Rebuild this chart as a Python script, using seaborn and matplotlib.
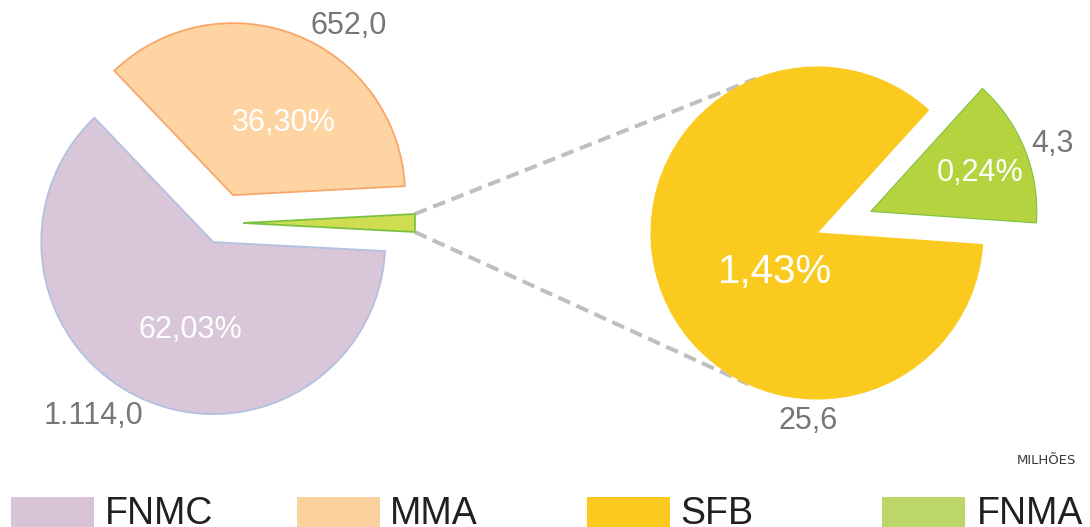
import matplotlib
matplotlib.use("Agg")
import matplotlib.pyplot as plt
import seaborn as sns
import numpy as np
from matplotlib.patches import Rectangle

# ---- data (milhões) ----
categories = ["FNMC", "MMA", "SFB", "FNMA"]
values = [1114.0, 652.0, 25.6, 4.3]
pie_colors = ["#d9c6d8", "#fdd4a2", "#fbca1e", "#b5d33e"]
legend_colors = ["#d9c4d7", "#fbd19e", "#fcc91f", "#bcd66a"]
other_color = "#cfdd51"
unit_label = "MILHÕES"

sns.set_theme(style="white")
plt.rcParams["font.family"] = ["Liberation Sans", "DejaVu Sans"]

W, H = 1090, 527
fig = plt.figure(figsize=(W / 100, H / 100), dpi=100)
ax = fig.add_axes([0, 0, 1, 1])


def sy(y):
    """Convert a top-down pixel row to the axes' bottom-up coordinate."""
    return H - y


def fmt_value(v):
    s = f"{v:,.1f}"
    return s.replace(",", "#").replace(".", ",").replace("#", ".")


def fmt_pct(p):
    return f"{p:.2f}".replace(".", ",") + "%"


total = sum(values)
other = values[2] + values[3]

# ---- main pie: other (SFB+FNMA), MMA, FNMC ----
# (explode offsets are in axis units, i.e. pixels here)
main_vals = [other, values[1], values[0]]
start_main = -180.0 * other / total
left_center = (222, sy(223))
left_r = 172
wl, _ = ax.pie(main_vals, center=left_center, radius=left_r,
               startangle=start_main, counterclock=True,
               explode=[21, 30, 21],
               colors=[other_color, pie_colors[1], pie_colors[0]],
               wedgeprops=dict(linewidth=1.3), frame=True)
for w, ec in zip(wl, ["#7cc242", "#f9a66b", "#b3c1e1"]):
    w.set_edgecolor(ec)
    w.set_zorder(2)

# ---- secondary pie: FNMA, SFB ----
right_center = (817, sy(233))
right_r = 166
wr, _ = ax.pie([values[3], values[2]], center=right_center, radius=right_r,
               startangle=-4, counterclock=True, explode=[58, 0],
               colors=[pie_colors[3], pie_colors[2]],
               wedgeprops=dict(linewidth=0.8), frame=True)
wr[0].set_edgecolor("#7cc242")
wr[1].set_edgecolor(pie_colors[2])
for w in wr:
    w.set_zorder(2)

# ---- connector lines: from the "other" wedge corners, tangent to the second pie ----
g = wl[0]
gcx, gcy = g.center
ox, oy = right_center
for theta, sign in [(g.theta2, -1), (g.theta1, +1)]:
    px = gcx + g.r * np.cos(np.radians(theta))
    py = gcy + g.r * np.sin(np.radians(theta))
    dx, dy = px - ox, py - oy
    dist = np.hypot(dx, dy)
    base = np.arctan2(dy, dx)
    alpha = np.arccos(right_r / dist)
    ang = base + sign * alpha
    tx = ox + right_r * np.cos(ang)
    ty = oy + right_r * np.sin(ang)
    ax.plot([px, tx], [py, ty], color="#bfbfbf", lw=2.9,
            ls=(0, (3.2, 1.7)), dash_capstyle="butt", zorder=1)

# ---- labels ----
pct = [v / total * 100 for v in values]
val_kw = dict(color="#767676", fontsize=22, ha="center", va="center")
pct_kw = dict(color="white", fontsize=22, ha="center", va="center", zorder=3)

ax.text(284, sy(123), fmt_pct(pct[1]), **pct_kw)
ax.text(190, sy(330), fmt_pct(pct[0]), **pct_kw)
ax.text(349, sy(26), fmt_value(values[1]), **val_kw)
ax.text(93, sy(416), fmt_value(values[0]), **val_kw)

ax.text(775, sy(272), fmt_pct(pct[2]), color="white", fontsize=29,
        ha="center", va="center", zorder=3)
ax.text(980, sy(173), fmt_pct(pct[3]), **pct_kw)
ax.text(1052, sy(144), fmt_value(values[3]), **val_kw)
ax.text(808, sy(421), fmt_value(values[2]), **val_kw)

ax.text(1046, sy(460), unit_label, fontsize=9.5, color="#3a3a3a",
        ha="center", va="center", family=["DejaVu Sans"])

# ---- legend along the bottom edge ----
patch_x = [11, 297, 587, 882]
text_x = [105, 390, 680, 977]
for cat, col, px, tx in zip(categories, legend_colors, patch_x, text_x):
    ax.add_patch(Rectangle((px, sy(527)), 83, 30, facecolor=col,
                           edgecolor="none", zorder=2))
    ax.text(tx, sy(524), cat, fontsize=27, color="#231f20", ha="left",
            va="baseline", family=["Liberation Sans Narrow", "Liberation Sans"])

ax.set_xlim(0, W)
ax.set_ylim(0, H)
ax.set_aspect("equal", adjustable="box")
ax.axis("off")

fig.savefig("out.png", dpi=100)
